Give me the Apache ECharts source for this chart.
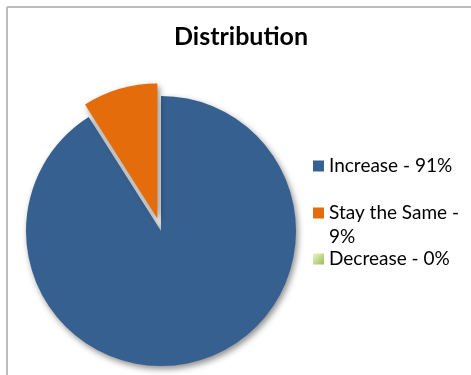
<!DOCTYPE html>
<html>
<head>
<meta charset="utf-8">
<script src="https://cdn.jsdelivr.net/npm/echarts@6/dist/echarts.min.js"></script>
<style>
html,body{margin:0;padding:0;background:#fff;}
#c{width:471px;height:375px;}
</style>
</head>
<body>
<div id="c"></div>
<script>
const categories = ["Increase", "Stay the Same", "Decrease"];
const values = [91, 9, 0];
const legendLabels = ["Increase - 91%", "\nStay the Same -\n9%", "Decrease - 0%"];
const titleText = "Distribution";

const colors = [
  "#36608F",
  "#E46C0A",
  {type: "linear", x: 0, y: 0, x2: 1, y2: 1, colorStops: [{offset: 0, color: "#e8f7c4"}, {offset: 1, color: "#9bbb59"}]}
];

const chart = echarts.init(document.getElementById("c"), null, {renderer: "canvas"});

const legendTops = [155, 177, 248];
const legends = categories.map((name, i) => ({
  orient: "vertical",
  left: 313,
  top: legendTops[i],
  padding: 0,
  itemWidth: 11,
  itemHeight: 11,
  icon: "rect",
  selectedMode: false,
  data: [name],
  formatter: () => legendLabels[i],
  textStyle: i === 1 ? {
    fontFamily: "Lato", fontSize: 19, color: "#000", lineHeight: 24
  } : {
    fontFamily: "Lato", fontSize: 19, color: "#000", lineHeight: 22
  }
}));

chart.setOption({
  animation: false,
  color: colors,
  title: {
    text: titleText,
    left: 241,
    textAlign: "center",
    top: 24,
    padding: 0,
    textStyle: {fontFamily: "Lato", fontWeight: "bold", fontSize: 25, color: "#000"}
  },
  legend: legends,
  graphic: [
    {type: "line", shape: {x1: 7, y1: 7, x2: 471, y2: 7}, style: {stroke: "#bdbdbd", lineWidth: 2}, silent: true},
    {type: "line", shape: {x1: 7, y1: 7, x2: 7, y2: 375}, style: {stroke: "#bdbdbd", lineWidth: 2}, silent: true}
  ],
  series: [{
    type: "pie",
    center: [161, 231],
    radius: 135,
    startAngle: 90,
    clockwise: true,
    selectedMode: "single",
    selectedOffset: 13,
    label: {show: false},
    labelLine: {show: false},
    emphasis: {disabled: true},
    itemStyle: {
      shadowBlur: 6,
      shadowOffsetX: 2,
      shadowOffsetY: 3,
      shadowColor: "rgba(0,0,0,0.45)"
    },
    data: categories.map((name, i) => ({name: name, value: values[i], selected: i === 1}))
  }]
});
</script>
</body>
</html>
